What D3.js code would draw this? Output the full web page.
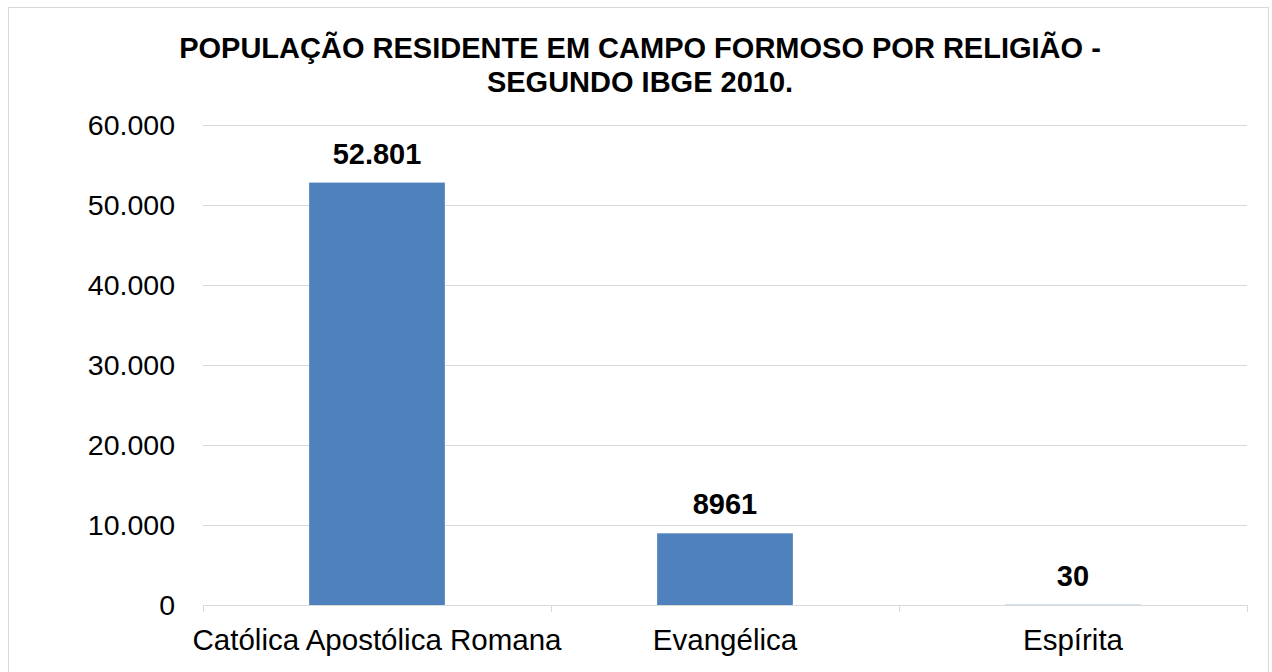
<!DOCTYPE html>
<html>
<head>
<meta charset="utf-8">
<script src="https://cdn.jsdelivr.net/npm/d3@7"></script>
<style>
  html, body { margin: 0; padding: 0; background: #fff; }
  svg { display: block; font-family: 'Liberation Sans', Arial, sans-serif; }
</style>
</head>
<body>
<div id="chart"></div>
<script>
const titleLines = ['POPULAÇÃO RESIDENTE EM CAMPO FORMOSO POR RELIGIÃO -', 'SEGUNDO IBGE 2010.'];
const categories = ['Católica Apostólica Romana', 'Evangélica', 'Espírita'];
const values = [52801, 8961, 30];
const valueLabels = ['52.801', '8961', '30'];
const yTicks = [0, 10000, 20000, 30000, 40000, 50000, 60000];

const W = 1272, H = 672;
const margin = { top: 125, right: 25, bottom: 67, left: 203 };
const innerW = W - margin.left - margin.right;
const innerH = H - margin.top - margin.bottom;

const svg = d3.select('#chart').append('svg')
  .attr('width', W).attr('height', H);

// chart border
svg.append('rect')
  .attr('x', 8.5).attr('y', 7.5)
  .attr('width', 1260).attr('height', 680)
  .attr('fill', 'none').attr('stroke', '#d9d9d9').attr('stroke-width', 1);

// title
svg.append('text')
  .attr('x', 640).attr('y', 58)
  .attr('text-anchor', 'middle')
  .attr('font-size', '29px').attr('font-weight', 'bold')
  .selectAll('tspan').data(titleLines).enter().append('tspan')
  .attr('x', 640).attr('dy', (d, i) => i === 0 ? 0 : 34)
  .text(d => d);

const g = svg.append('g').attr('transform', `translate(${margin.left},${margin.top})`);

const x = d3.scaleBand().domain(categories).range([0, innerW]).paddingInner(0.61).paddingOuter(0.305);
const y = d3.scaleLinear().domain([0, 60000]).range([innerH, 0]);

// gridlines
g.selectAll('.grid').data(yTicks.filter(d => d > 0)).enter().append('line')
  .attr('x1', 0).attr('x2', innerW)
  .attr('y1', d => Math.round(y(d)) + 0.5).attr('y2', d => Math.round(y(d)) + 0.5)
  .attr('stroke', '#d9d9d9').attr('stroke-width', 1);

// y labels
g.selectAll('.ylab').data(yTicks).enter().append('text')
  .attr('x', -28).attr('y', d => y(d))
  .attr('dy', '0.35em')
  .attr('text-anchor', 'end')
  .attr('font-size', '28.5px').attr('fill', '#000')
  .text(d => d === 0 ? '0' : d3.format(',')(d).replace(/,/g, '.'));

// bars
g.selectAll('.bar').data(values).enter().append('rect')
  .attr('x', (d, i) => x(categories[i]))
  .attr('width', x.bandwidth())
  .attr('y', d => y(d))
  .attr('height', d => innerH - y(d))
  .attr('fill', '#4f81bd');

// x axis line + ticks
const xAxis = g.append('g').attr('transform', `translate(0,${innerH})`);
xAxis.append('line')
  .attr('x1', 0).attr('x2', innerW).attr('y1', 0.5).attr('y2', 0.5)
  .attr('stroke', '#d9d9d9').attr('stroke-width', 1);
const step = x.step();
xAxis.selectAll('.tick').data(d3.range(categories.length + 1)).enter().append('line')
  .attr('x1', i => Math.round(i * step) + 0.5).attr('x2', i => Math.round(i * step) + 0.5)
  .attr('y1', 0).attr('y2', 7)
  .attr('stroke', '#d9d9d9').attr('stroke-width', 1);

// x labels
g.selectAll('.xlab').data(categories).enter().append('text')
  .attr('x', d => x(d) + x.bandwidth() / 2)
  .attr('y', innerH + 45)
  .attr('text-anchor', 'middle')
  .attr('font-size', '29.5px').attr('fill', '#000')
  .text(d => d);

// value labels
g.selectAll('.vlab').data(values).enter().append('text')
  .attr('x', (d, i) => x(categories[i]) + x.bandwidth() / 2)
  .attr('y', d => y(d) - 19)
  .attr('text-anchor', 'middle')
  .attr('font-size', '29px').attr('font-weight', 'bold').attr('fill', '#000')
  .text((d, i) => valueLabels[i]);
</script>
</body>
</html>
